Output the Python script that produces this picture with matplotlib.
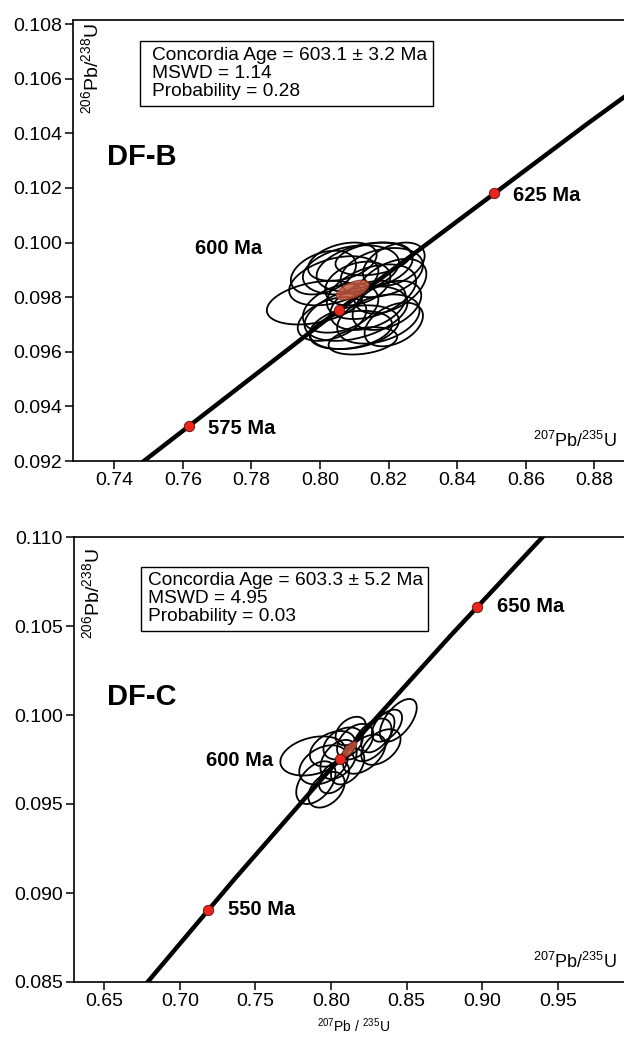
import numpy as np
import matplotlib

matplotlib.use("Agg")
import matplotlib.pyplot as plt
from matplotlib.patches import Polygon, Rectangle

plt.rcParams["font.family"] = ["Liberation Sans", "DejaVu Sans"]
plt.rcParams["mathtext.fontset"] = "custom"
plt.rcParams["mathtext.rm"] = "Liberation Sans"

# --- data -----------------------------------------------------------------
# concordia curve points (207Pb/235U, 206Pb/238U) at ages in Ma
conc_age = [520, 560, 600, 640, 680]
conc_x = [0.66883, 0.73588, 0.80563, 0.87818, 0.95366]
conc_y = [0.084007, 0.090755, 0.097544, 0.104375, 0.11125]

# age markers on the concordia
b_mark_age = [575, 600, 625]
b_mark_x = [0.76172, 0.80563, 0.85064]
b_mark_y = [0.093296, 0.097544, 0.101809]
c_mark_age = [550, 600, 650]
c_mark_x = [0.71887, 0.80563, 0.89677]
c_mark_y = [0.089065, 0.097544, 0.106089]

# DF-B analyses: centre, 2s half-widths, error correlation
b_cx = [0.7985, 0.8040, 0.8060, 0.8090, 0.8105, 0.8130, 0.8150, 0.8180, 0.8205, 0.8215, 0.8100,
        0.8090, 0.8140, 0.8035, 0.8170, 0.8110, 0.8195, 0.8065, 0.8155, 0.8010, 0.8125, 0.8215]
b_cy = [0.0978, 0.0986, 0.0976, 0.0990, 0.0974, 0.0991, 0.0982, 0.0989, 0.0984, 0.0992, 0.0969,
        0.0968, 0.0977, 0.0972, 0.0972, 0.0985, 0.0977, 0.0993, 0.0994, 0.0989, 0.0964, 0.0970]
b_sx = [0.0140, 0.0130, 0.0110, 0.0140, 0.0150, 0.0140, 0.0130, 0.0120, 0.0105, 0.0090, 0.0130,
        0.0120, 0.0110, 0.0100, 0.0120, 0.0095, 0.0100, 0.0100, 0.0110, 0.0095, 0.0100, 0.0085]
b_sy = [0.0008, 0.0009, 0.0009, 0.0009, 0.0010, 0.0009, 0.0010, 0.0009, 0.0010, 0.0008, 0.0008,
        0.0007, 0.0009, 0.0008, 0.0009, 0.0008, 0.0009, 0.0007, 0.0006, 0.0008, 0.0005, 0.0008]
b_rho = [0.35, 0.40, 0.35, 0.30, 0.40, 0.35, 0.40, 0.30, 0.45, 0.40, 0.30,
         0.30, 0.35, 0.40, 0.35, 0.30, 0.40, 0.35, 0.30, 0.35, 0.30, 0.40]

# DF-C analyses
c_cx = [0.7880, 0.7950, 0.7900, 0.7970, 0.8010, 0.8050, 0.8080, 0.8110, 0.8160,
        0.8220, 0.8270, 0.8310, 0.8330, 0.8445, 0.8370, 0.8020, 0.8130]
c_cy = [0.0977, 0.0972, 0.0962, 0.0958, 0.0981, 0.0975, 0.0984, 0.0971, 0.0985,
        0.0978, 0.0986, 0.0990, 0.0982, 0.0997, 0.0994, 0.0965, 0.0991]
c_sx = [0.0215, 0.0160, 0.0130, 0.0120, 0.0150, 0.0120, 0.0130, 0.0110, 0.0120,
        0.0140, 0.0130, 0.0110, 0.0130, 0.0122, 0.0100, 0.0100, 0.0100]
c_sy = [0.0011, 0.0011, 0.0012, 0.0010, 0.0010, 0.0011, 0.0009, 0.0010, 0.0010,
        0.0011, 0.0012, 0.0011, 0.0010, 0.0012, 0.0009, 0.0009, 0.0008]
c_rho = [0.30, 0.35, 0.45, 0.40, 0.35, 0.40, 0.35, 0.45, 0.40,
         0.50, 0.50, 0.55, 0.45, 0.60, 0.50, 0.40, 0.40]

# concordia age ellipses (cx, cy, sx, sy, rho)
b_conc = (0.8095, 0.09826, 0.0048, 0.00036, 0.55)
c_conc = (0.8121, 0.09806, 0.0050, 0.00045, 0.75)

b_stats = ["Concordia Age = 603.1 \u00b1 3.2 Ma", "MSWD = 1.14", "Probability = 0.28"]
c_stats = ["Concordia Age = 603.3 \u00b1 5.2 Ma", "MSWD = 4.95", "Probability = 0.03"]

b_xticks = [0.74, 0.76, 0.78, 0.80, 0.82, 0.84, 0.86, 0.88]
b_yticks = [0.092, 0.094, 0.096, 0.098, 0.100, 0.102, 0.104, 0.106, 0.108]
c_xticks = [0.65, 0.70, 0.75, 0.80, 0.85, 0.90, 0.95]
c_yticks = [0.085, 0.090, 0.095, 0.100, 0.105, 0.110]

YLAB = r"$\mathregular{^{206}}$Pb/$\mathregular{^{238}}$U"
XLAB = r"$\mathregular{^{207}}$Pb/$\mathregular{^{235}}$U"


def ellipse_xy(cx, cy, sx, sy, rho, n=120):
    t = np.linspace(0, 2 * np.pi, n)
    x = cx + sx * np.cos(t)
    y = cy + sy * (rho * np.cos(t) + np.sqrt(1 - rho ** 2) * np.sin(t))
    return np.column_stack([x, y])


def panel(ax, cx, cy, sx, sy, rho, conc, mk_x, mk_y, xt, yt):
    for i in range(len(cx)):
        ax.add_patch(Polygon(ellipse_xy(cx[i], cy[i], sx[i], sy[i], rho[i]), closed=True,
                             fill=False, ec="black", lw=1.3, zorder=2))
    ax.plot(conc_x, conc_y, color="black", lw=3.2, zorder=3, solid_capstyle="butt")
    ax.add_patch(Polygon(ellipse_xy(*conc), closed=True, fc="#c4583f", ec="#8a2e1e",
                         lw=0.8, alpha=0.85, zorder=4))
    ax.plot(mk_x, mk_y, "o", ms=7.5, mfc="#e8261e", mec="#5a1008", mew=0.6, zorder=5)
    ax.set_xticks(xt)
    ax.set_xticklabels(["%.2f" % v for v in xt])
    ax.set_yticks(yt)
    ax.set_yticklabels(["%.3f" % v for v in yt])
    ax.spines["right"].set_visible(False)
    for s in ("left", "bottom", "top"):
        ax.spines[s].set_linewidth(1.2)
    ax.tick_params(direction="out", length=6, width=1.1, labelsize=14, pad=2, top=False, right=False)
    ax.text(0.988, 0.045, XLAB, transform=ax.transAxes, ha="right", va="center", fontsize=13)


def age_labels(ax, ages, xs, ys, pos600, dy):
    for age, x, y in zip(ages, xs, ys):
        if age == 600:
            ax.text(pos600[0], pos600[1], f"{age} Ma", ha="right", va="center",
                    fontsize=14.5, fontweight="bold")
        else:
            ax.annotate(f"{age} Ma", (x, y), xytext=(14, dy), textcoords="offset points",
                        ha="left", va="center", fontsize=14.5, fontweight="bold")


fig = plt.figure(figsize=(6.24, 10.37), dpi=100)

# top panel: DF-B
ax1 = fig.add_axes([73 / 624, 1 - 461 / 1037, 551 / 624, 441 / 1037])
ax1.set_xlim(0.728, 0.8886)
ax1.set_ylim(0.092, 0.10815)
panel(ax1, b_cx, b_cy, b_sx, b_sy, b_rho, b_conc, b_mark_x, b_mark_y, b_xticks, b_yticks)
age_labels(ax1, b_mark_age, b_mark_x, b_mark_y, (0.7832, 0.0998), -2)
ax1.text(0.7379, 0.10313, "DF-B", ha="left", va="center", fontsize=21, fontweight="bold")
ax1.add_patch(Rectangle((0.1216, 0.805), 0.5318, 0.1474, transform=ax1.transAxes,
                        fill=False, ec="black", lw=1.0, zorder=6))
ax1.text(0.1428, 0.8785, "\n".join(b_stats), transform=ax1.transAxes, ha="left", va="center",
         fontsize=13.8, linespacing=1.08, zorder=7)
ax1.text(0.033, 0.993, YLAB, transform=ax1.transAxes, rotation=90, ha="center", va="top", fontsize=14)

# bottom panel: DF-C
ax2 = fig.add_axes([74 / 624, 1 - 982 / 1037, 550 / 624, 445 / 1037])
ax2.set_xlim(0.630, 0.9938)
ax2.set_ylim(0.085, 0.110)
panel(ax2, c_cx, c_cy, c_sx, c_sy, c_rho, c_conc, c_mark_x, c_mark_y, c_xticks, c_yticks)
age_labels(ax2, c_mark_age, c_mark_x, c_mark_y, (0.7616, 0.09746), 0)
ax2.text(0.6518, 0.1010, "DF-C", ha="left", va="center", fontsize=21, fontweight="bold")
ax2.add_patch(Rectangle((0.1213, 0.7888), 0.5217, 0.1438, transform=ax2.transAxes,
                        fill=False, ec="black", lw=1.0, zorder=6))
ax2.text(0.1351, 0.862, "\n".join(c_stats), transform=ax2.transAxes, ha="left", va="center",
         fontsize=13.8, linespacing=1.08, zorder=7)
ax2.text(0.033, 0.975, YLAB, transform=ax2.transAxes, rotation=90, ha="center", va="top", fontsize=14)

fig.text(354 / 624, 1 - 1026 / 1037, r"$\mathregular{^{207}}$Pb / $\mathregular{^{235}}$U",
         ha="center", va="center", fontsize=10)

fig.savefig("out.png", dpi=100)
